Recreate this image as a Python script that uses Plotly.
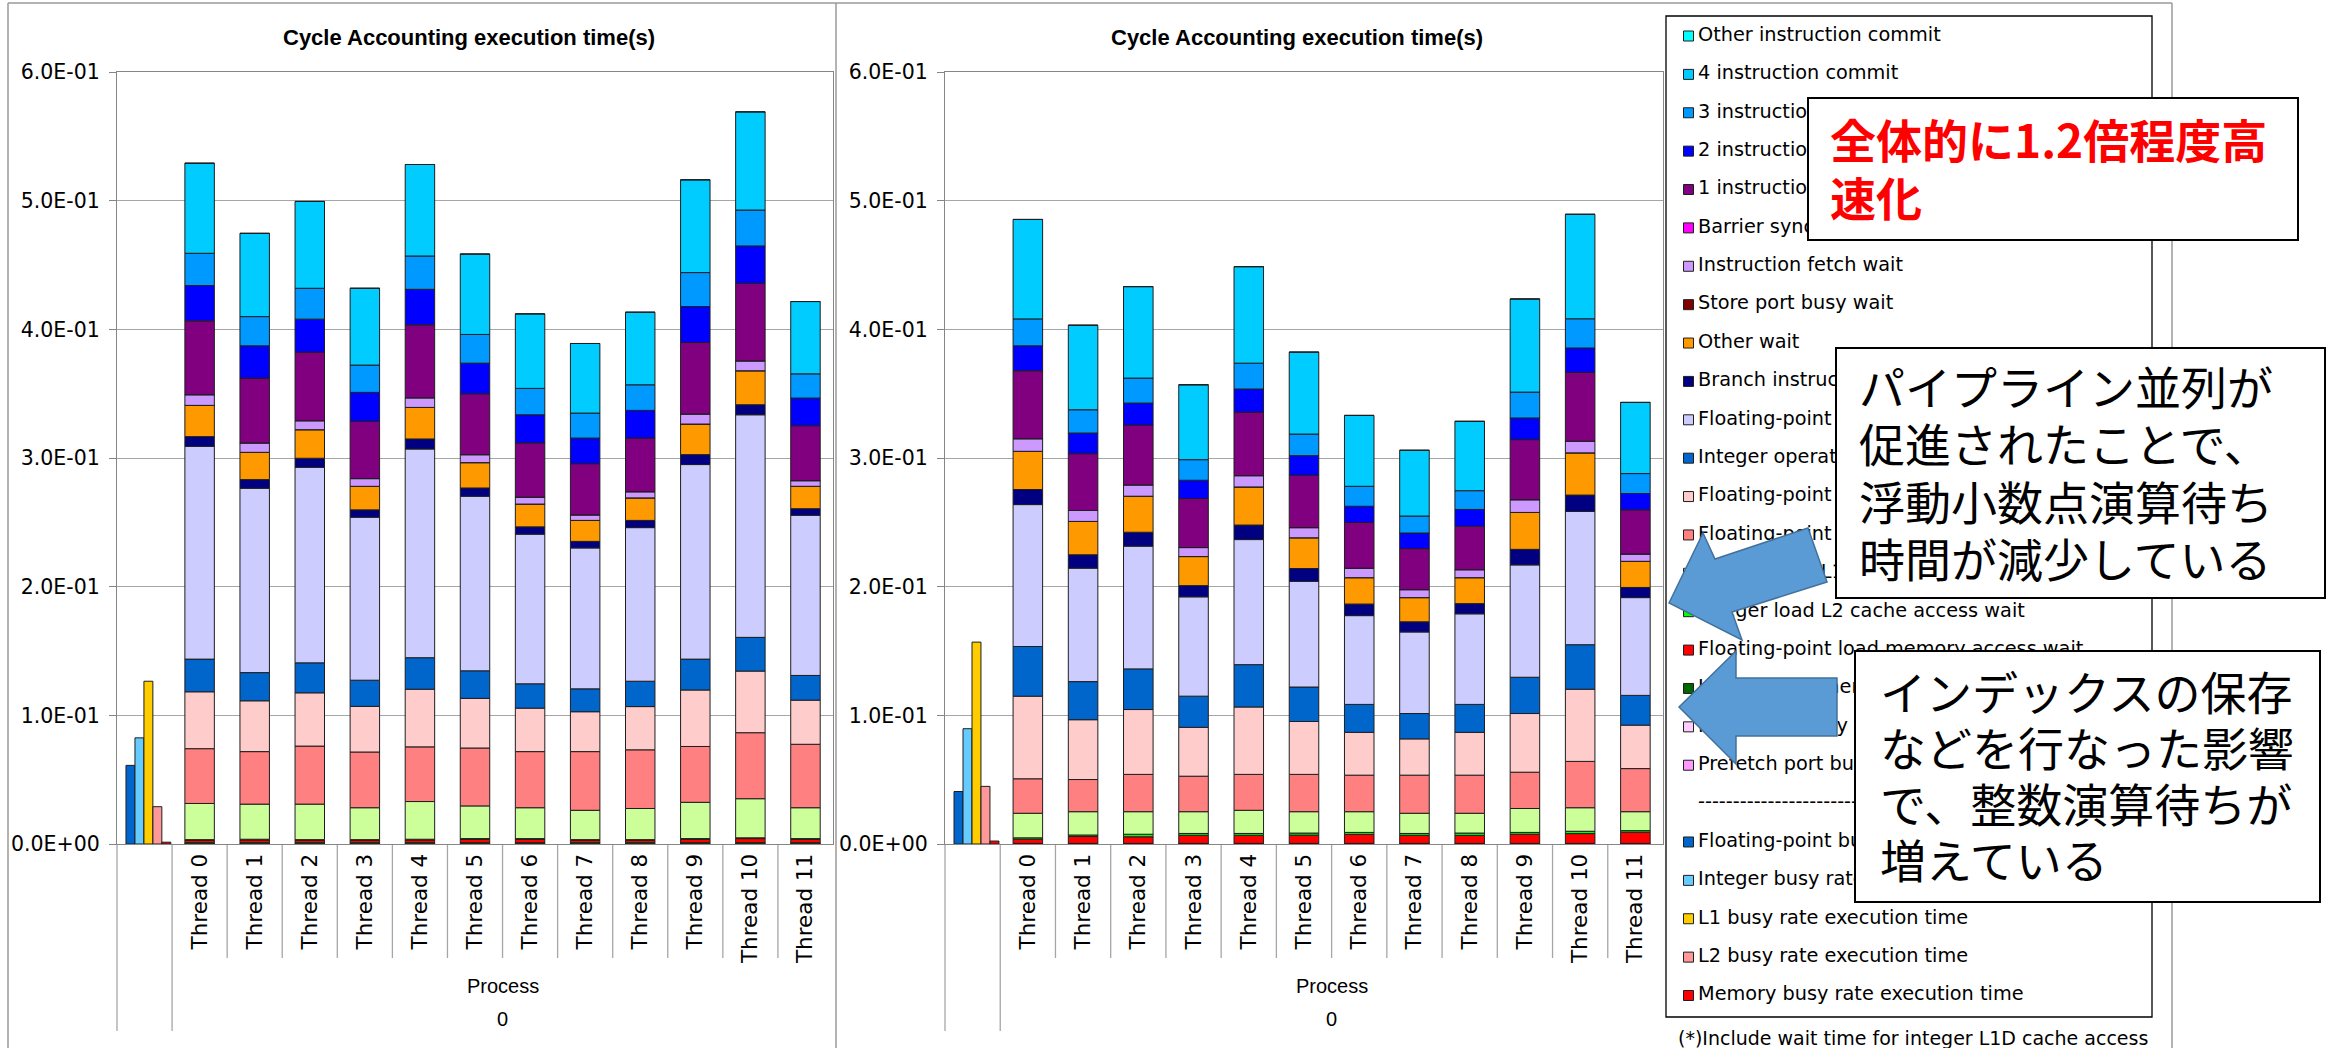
import numpy as np
import plotly.graph_objects as go

W, H = 2338, 1048

# ---------------------------------------------------------------- data
THREADS = ["Thread 0", "Thread 1", "Thread 2", "Thread 3", "Thread 4", "Thread 5",
           "Thread 6", "Thread 7", "Thread 8", "Thread 9", "Thread 10", "Thread 11"]
Y_TICKS = [0.0, 0.1, 0.2, 0.3, 0.4, 0.5, 0.6]
TITLE = "Cycle Accounting execution time(s)"

# stacked categories, listed from the top of each column to the bottom
STACK_NAMES = [
    "Other instruction commit", "4 instruction commit", "3 instruction commit",
    "2 instruction commit", "1 instruction commit", "Barrier synchronization wait",
    "Instruction fetch wait", "Store port busy wait", "Other wait",
    "Branch instruction wait", "Floating-point operation wait", "Integer operation wait",
    "Floating-point load L1D cache access wait", "Floating-point load L2 cache access wait",
    "Integer load L1D cache access wait", "Integer load L2 cache access wait",
    "Floating-point load memory access wait", "Integer load memory access wait",
    "Fetch port busy wait", "Prefetch port busy wait",
]
STACK_COLORS = [
    "#00FFFF", "#00CCFF", "#0099FF", "#0000FF", "#800080", "#FF00FF", "#CC99FF",
    "#800000", "#FF9900", "#000080", "#CCCCFF", "#0066CC", "#FFCCCC", "#FF8080",
    "#CCFF99", "#00FF00", "#FF0000", "#006600", "#FFCCFF", "#FF99FF",
]
SEPARATOR_LABEL = "-" * 40
BUSY_NAMES = [
    "Floating-point busy rate execution time", "Integer busy rate execution time",
    "L1 busy rate execution time", "L2 busy rate execution time",
    "Memory busy rate execution time",
]
BUSY_COLORS = ["#0066CC", "#66CCFF", "#FFCC00", "#FF9999", "#FF0000"]

# --- left chart (before tuning), one value per thread
B_OTHER_COMMIT = [0, 0, 0, 0, 0, 0, 0, 0, 0, 0, 0, 0]
B_COMMIT4 = [0.0700, 0.0647, 0.0675, 0.0597, 0.0711, 0.0625, 0.0579, 0.0541, 0.0564, 0.0721, 0.0763, 0.0562]
B_COMMIT3 = [0.0251, 0.0227, 0.0240, 0.0212, 0.0259, 0.0223, 0.0205, 0.0194, 0.0199, 0.0264, 0.0279, 0.0188]
B_COMMIT2 = [0.0274, 0.0251, 0.0256, 0.0225, 0.0276, 0.0238, 0.0219, 0.0199, 0.0215, 0.0279, 0.0290, 0.0215]
B_COMMIT1 = [0.0574, 0.0504, 0.0533, 0.0445, 0.0567, 0.0473, 0.0421, 0.0398, 0.0417, 0.0556, 0.0603, 0.0427]
B_BARRIER = [0, 0, 0, 0, 0, 0, 0, 0, 0, 0, 0, 0]
B_IFETCH = [0.0083, 0.0073, 0.0070, 0.0060, 0.0075, 0.0062, 0.0054, 0.0043, 0.0048, 0.0078, 0.0077, 0.0044]
B_STORE_PORT = [0, 0, 0, 0, 0, 0, 0, 0, 0, 0, 0, 0]
B_OTHER_WAIT = [0.0243, 0.0212, 0.0222, 0.0183, 0.0245, 0.0197, 0.0177, 0.0163, 0.0175, 0.0238, 0.0264, 0.0174]
B_BRANCH = [0.0075, 0.0067, 0.0070, 0.0057, 0.0078, 0.0064, 0.0057, 0.0051, 0.0056, 0.0077, 0.0078, 0.0051]
B_FP_OP = [0.1654, 0.1433, 0.1520, 0.1267, 0.1622, 0.1357, 0.1163, 0.1095, 0.1194, 0.1512, 0.1730, 0.1245]
B_INT_OP = [0.0254, 0.0219, 0.0233, 0.0203, 0.0245, 0.0214, 0.0189, 0.0178, 0.0197, 0.0240, 0.0262, 0.0192]
B_FP_L1D = [0.0442, 0.0395, 0.0414, 0.0355, 0.0448, 0.0386, 0.0338, 0.0310, 0.0336, 0.0439, 0.0479, 0.0343]
B_FP_L2 = [0.0426, 0.0408, 0.0451, 0.0433, 0.0425, 0.0450, 0.0436, 0.0456, 0.0456, 0.0434, 0.0513, 0.0493]
B_INT_L1D = [0.0281, 0.0273, 0.0276, 0.0248, 0.0293, 0.0254, 0.0240, 0.0228, 0.0242, 0.0282, 0.0304, 0.0240]
B_INT_L2 = [0.0006, 0.0006, 0.0006, 0.0006, 0.0006, 0.0006, 0.0006, 0.0006, 0.0006, 0.0006, 0.0006, 0.0006]
B_FP_MEM = [0.0018, 0.0021, 0.0018, 0.0018, 0.0021, 0.0026, 0.0026, 0.0018, 0.0018, 0.0026, 0.0032, 0.0026]
B_INT_MEM = [0.0010, 0.0010, 0.0010, 0.0010, 0.0010, 0.0010, 0.0010, 0.0010, 0.0010, 0.0010, 0.0010, 0.0010]
B_FETCH_PORT = [0, 0, 0, 0, 0, 0, 0, 0, 0, 0, 0, 0]
B_PREFETCH_PORT = [0, 0, 0, 0, 0, 0, 0, 0, 0, 0, 0, 0]
B_BUSY = [0.0611, 0.0825, 0.1265, 0.0290, 0.0014]

# --- right chart (after tuning)
A_OTHER_COMMIT = [0, 0, 0, 0, 0, 0, 0, 0, 0, 0, 0, 0]
A_COMMIT4 = [0.0773, 0.0657, 0.0711, 0.0582, 0.0750, 0.0637, 0.0551, 0.0511, 0.0539, 0.0724, 0.0812, 0.0553]
A_COMMIT3 = [0.0209, 0.0181, 0.0194, 0.0160, 0.0201, 0.0168, 0.0155, 0.0132, 0.0146, 0.0201, 0.0227, 0.0155]
A_COMMIT2 = [0.0194, 0.0160, 0.0171, 0.0142, 0.0179, 0.0152, 0.0126, 0.0121, 0.0130, 0.0168, 0.0189, 0.0127]
A_COMMIT1 = [0.0528, 0.0442, 0.0465, 0.0381, 0.0494, 0.0407, 0.0355, 0.0319, 0.0338, 0.0467, 0.0535, 0.0343]
A_BARRIER = [0, 0, 0, 0, 0, 0, 0, 0, 0, 0, 0, 0]
A_IFETCH = [0.0098, 0.0085, 0.0088, 0.0070, 0.0088, 0.0079, 0.0074, 0.0062, 0.0062, 0.0099, 0.0091, 0.0057]
A_STORE_PORT = [0, 0, 0, 0, 0, 0, 0, 0, 0, 0, 0, 0]
A_OTHER_WAIT = [0.0297, 0.0259, 0.0280, 0.0226, 0.0296, 0.0239, 0.0205, 0.0188, 0.0202, 0.0287, 0.0328, 0.0203]
A_BRANCH = [0.0117, 0.0104, 0.0108, 0.0087, 0.0113, 0.0099, 0.0090, 0.0079, 0.0079, 0.0121, 0.0127, 0.0079]
A_FP_OP = [0.1103, 0.0882, 0.0954, 0.0772, 0.0972, 0.0822, 0.0690, 0.0634, 0.0704, 0.0873, 0.1036, 0.0760]
A_INT_OP = [0.0386, 0.0296, 0.0316, 0.0242, 0.0329, 0.0268, 0.0217, 0.0197, 0.0217, 0.0282, 0.0346, 0.0231]
A_FP_L1D = [0.0642, 0.0465, 0.0504, 0.0380, 0.0524, 0.0411, 0.0333, 0.0282, 0.0333, 0.0456, 0.0561, 0.0338]
A_FP_L2 = [0.0268, 0.0250, 0.0290, 0.0276, 0.0279, 0.0290, 0.0284, 0.0296, 0.0296, 0.0282, 0.0360, 0.0335]
A_INT_L1D = [0.0191, 0.0181, 0.0175, 0.0169, 0.0180, 0.0166, 0.0161, 0.0157, 0.0154, 0.0186, 0.0183, 0.0147]
A_INT_L2 = [0.0010, 0.0012, 0.0020, 0.0014, 0.0014, 0.0016, 0.0015, 0.0014, 0.0018, 0.0014, 0.0018, 0.0012]
A_FP_MEM = [0.0033, 0.0053, 0.0051, 0.0063, 0.0063, 0.0064, 0.0070, 0.0063, 0.0062, 0.0071, 0.0076, 0.0087]
A_INT_MEM = [0.0005, 0.0005, 0.0005, 0.0005, 0.0005, 0.0005, 0.0005, 0.0005, 0.0005, 0.0005, 0.0005, 0.0005]
A_FETCH_PORT = [0, 0, 0, 0, 0, 0, 0, 0, 0, 0, 0, 0]
A_PREFETCH_PORT = [0, 0, 0, 0, 0, 0, 0, 0, 0, 0, 0, 0]
A_BUSY = [0.0408, 0.0896, 0.1569, 0.0448, 0.0023]

BEFORE_STACK = [B_OTHER_COMMIT, B_COMMIT4, B_COMMIT3, B_COMMIT2, B_COMMIT1, B_BARRIER,
                B_IFETCH, B_STORE_PORT, B_OTHER_WAIT, B_BRANCH, B_FP_OP, B_INT_OP,
                B_FP_L1D, B_FP_L2, B_INT_L1D, B_INT_L2, B_FP_MEM, B_INT_MEM,
                B_FETCH_PORT, B_PREFETCH_PORT]
AFTER_STACK = [A_OTHER_COMMIT, A_COMMIT4, A_COMMIT3, A_COMMIT2, A_COMMIT1, A_BARRIER,
               A_IFETCH, A_STORE_PORT, A_OTHER_WAIT, A_BRANCH, A_FP_OP, A_INT_OP,
               A_FP_L1D, A_FP_L2, A_INT_L1D, A_INT_L2, A_FP_MEM, A_INT_MEM,
               A_FETCH_PORT, A_PREFETCH_PORT]

NOTE_SPEEDUP = ["全体的に1.2倍程度高", "速化"]
NOTE_FP = ["パイプライン並列が", "促進されたことで、", "浮動小数点演算待ち", "時間が減少している"]
NOTE_INT = ["インデックスの保存", "などを行なった影響", "で、整数演算待ちが", "増えている"]
FOOTNOTE = "(*)Include wait time for integer L1D cache access"

# ---------------------------------------------------------------- layout helpers
def px(x):
    return x / W


def py(y):
    return 1 - y / H


PLOT_TOP, PLOT_BOTTOM = 72, 844
CHARTS = [  # (plot-area left, right, x axis, y axis, stack, busy, title centre)
    (117, 833, "x", "y", BEFORE_STACK, B_BUSY, 469),
    (945, 1663, "x2", "y2", AFTER_STACK, A_BUSY, 1297),
]
N_SLOTS = len(THREADS) + 1
POS = np.arange(1, len(THREADS) + 1)   # slot 0 holds the process-level busy rates

DEJAVU = "DejaVu Sans, Verdana, sans-serif"
LIBERATION = "Liberation Sans, Arial, sans-serif"
Y_TICK_FONT = dict(family=DEJAVU, size=20.5, color="black")
X_TICK_FONT = dict(family=DEJAVU, size=21.5, color="black")
LEGEND_FONT = dict(family=DEJAVU, size=19.3, color="black")
GRID = "#A6A6A6"
AXIS = "#868686"

fig = go.Figure()
shapes = []
annotations = []

for left, right, xa, ya, stack, busy, title_x in CHARTS:
    # stacked columns, built from the bottom category upwards
    base = np.zeros(len(THREADS))
    for name, color, vals in reversed(list(zip(STACK_NAMES, STACK_COLORS, stack))):
        v = np.asarray(vals, dtype=float)
        fig.add_trace(go.Bar(
            x=POS, y=v, base=base.copy(), width=0.535, name=name,
            marker=dict(color=color, line=dict(color="#1E1E1E", width=1)),
            xaxis=xa, yaxis=ya, showlegend=False, hoverinfo="skip"))
        base += v
    # process-level busy rates, side by side in the first slot
    for i, (name, color, val) in enumerate(zip(BUSY_NAMES, BUSY_COLORS, busy)):
        fig.add_trace(go.Bar(
            x=[0], y=[val], width=0.162, offset=-0.337 + i * 0.163, name=name,
            marker=dict(color=color, line=dict(color="#1E1E1E", width=1)),
            xaxis=xa, yaxis=ya, showlegend=False, hoverinfo="skip"))

    # slot separators below the category axis
    cw = (right - left) / N_SLOTS
    for k in range(N_SLOTS):
        xk = left + k * cw
        shapes.append(dict(type="line", xref="paper", yref="paper",
                           x0=px(xk), x1=px(xk), y0=py(PLOT_BOTTOM),
                           y1=py(1031 if k < 2 else 958),
                           line=dict(color=GRID, width=1.3), layer="below"))

    annotations += [
        dict(text=TITLE, x=px(title_x), y=py(38), xref="paper", yref="paper",
             showarrow=False, xanchor="center", yanchor="middle",
             font=dict(family=LIBERATION, size=22, color="black", weight="bold")),
        dict(text="Process", x=px(left + 7 * cw), y=py(986), xref="paper", yref="paper",
             showarrow=False, xanchor="center", yanchor="middle",
             font=dict(family=LIBERATION, size=20, color="black")),
        dict(text="0", x=px(left + 7 * cw), y=py(1019), xref="paper", yref="paper",
             showarrow=False, xanchor="center", yanchor="middle",
             font=dict(family=LIBERATION, size=20, color="black")),
    ]

xaxis_common = dict(range=[-0.5, len(THREADS) + 0.5], tickvals=POS, ticktext=THREADS,
                    tickangle=-90, ticks="", showgrid=False, zeroline=False,
                    showline=True, linecolor=AXIS, linewidth=1.3, mirror=True,
                    tickfont=X_TICK_FONT, fixedrange=True, automargin=False)
yaxis_common = dict(domain=[py(PLOT_BOTTOM), py(PLOT_TOP)], range=[0, 0.6],
                    tickvals=Y_TICKS, ticktext=[f"{v:.1E}" for v in Y_TICKS],
                    showgrid=True, gridcolor=GRID, gridwidth=1.3, zeroline=False,
                    showline=True, linecolor=AXIS, linewidth=1.3, mirror=True,
                    ticks="outside", ticklen=7, tickwidth=1.3, tickcolor=AXIS,
                    ticklabelstandoff=5, tickfont=Y_TICK_FONT, fixedrange=True,
                    automargin=False)

fig.update_layout(
    template="none",
    xaxis=dict(domain=[px(117), px(833)], anchor="y", **xaxis_common),
    yaxis=dict(anchor="x", **yaxis_common),
    xaxis2=dict(domain=[px(945), px(1663)], anchor="y2", **xaxis_common),
    yaxis2=dict(anchor="x2", **yaxis_common),
    xaxis3=dict(domain=[0, 1], range=[0, W], visible=False, fixedrange=True,
                anchor="y3", automargin=False),
    yaxis3=dict(domain=[0, 1], range=[H, 0], visible=False, fixedrange=True,
                anchor="x3", automargin=False),
)

# ---------------------------------------------------------------- legend panel
LEG_NAMES = STACK_NAMES + [SEPARATOR_LABEL] + BUSY_NAMES
LEG_COLORS = STACK_COLORS + [None] + BUSY_COLORS
LEG_TOP, LEG_STEP = 36, 38.38
rows = np.arange(len(LEG_NAMES))
row_y = LEG_TOP + LEG_STEP * rows
swatch_rows = [i for i, c in enumerate(LEG_COLORS) if c is not None]

fig.add_trace(go.Scatter(
    x=[1688.5] * len(swatch_rows), y=row_y[swatch_rows], mode="markers",
    marker=dict(symbol="square", size=10, color=[LEG_COLORS[i] for i in swatch_rows],
                line=dict(color="#1E1E1E", width=1)),
    xaxis="x3", yaxis="y3", showlegend=False, hoverinfo="skip", cliponaxis=False))
fig.add_trace(go.Scatter(
    x=[1698] * len(LEG_NAMES), y=row_y, mode="text", text=LEG_NAMES,
    textposition="middle right", textfont=LEGEND_FONT,
    xaxis="x3", yaxis="y3", showlegend=False, hoverinfo="skip", cliponaxis=False))

annotations.append(dict(text=FOOTNOTE, x=px(1676), y=py(1038), xref="paper", yref="paper",
                        showarrow=False, xanchor="left", yanchor="middle",
                        font=dict(family=DEJAVU, size=19, color="black")))

# ---------------------------------------------------------------- frames
FRAME = "#9A9A9A"
shapes += [
    dict(type="line", xref="paper", yref="paper", x0=px(8), x1=px(2172), y0=py(3), y1=py(3),
         line=dict(color=FRAME, width=1.5), layer="below"),
    dict(type="line", xref="paper", yref="paper", x0=px(8), x1=px(8), y0=py(3), y1=py(H),
         line=dict(color=FRAME, width=1.5), layer="below"),
    dict(type="line", xref="paper", yref="paper", x0=px(836), x1=px(836), y0=py(3), y1=py(H),
         line=dict(color=FRAME, width=1.5), layer="below"),
    dict(type="line", xref="paper", yref="paper", x0=px(2172), x1=px(2172), y0=py(3), y1=py(H),
         line=dict(color=FRAME, width=1.5), layer="below"),
    dict(type="rect", xref="paper", yref="paper", x0=px(1666), x1=px(2152),
         y0=py(1017), y1=py(16), line=dict(color="black", width=1.3),
         fillcolor="white", layer="below"),
]


# ---------------------------------------------------------------- callouts
def poly(points):
    return "M " + " L ".join(f"{px(x):.5f},{py(y):.5f}" for x, y in points) + " Z"


ARROW_FILL, ARROW_LINE = "#5B9BD5", "#41719C"
shapes += [
    dict(type="path", xref="paper", yref="paper", layer="above",
         path=poly([(1669, 603), (1703, 533), (1715, 559), (1808, 528),
                    (1827, 582), (1732, 612), (1742, 640)]),
         fillcolor=ARROW_FILL, line=dict(color=ARROW_LINE, width=1.5)),
    dict(type="path", xref="paper", yref="paper", layer="above",
         path=poly([(1679, 707), (1736, 651), (1736, 678), (1837, 678),
                    (1837, 736), (1736, 736), (1736, 764)]),
         fillcolor=ARROW_FILL, line=dict(color=ARROW_LINE, width=1.5)),
]

BOXES = [  # (left, top, right, bottom, text left, first line centre, line step, lines, colour, weight)
    (1808, 98, 2298, 240, 1828, 138, 58, NOTE_SPEEDUP, "#FF0000", "bold"),
    (1836, 348, 2325, 598, 1857, 385, 57.3, NOTE_FP, "black", "normal"),
    (1855, 651, 2320, 902, 1878, 690, 56, NOTE_INT, "black", "normal"),
]
for x0, y0, x1, y1, tx, ty, step, lines, color, weight in BOXES:
    shapes.append(dict(type="rect", xref="paper", yref="paper", layer="above",
                       x0=px(x0), x1=px(x1), y0=py(y1), y1=py(y0),
                       fillcolor="white", line=dict(color="black", width=2)))
    for j, line in enumerate(lines):
        annotations.append(dict(
            text=line, x=px(tx), y=py(ty + j * step), xref="paper", yref="paper",
            showarrow=False, xanchor="left", yanchor="middle",
            font=dict(family="Noto Sans CJK JP, sans-serif", size=46, color=color,
                      weight=weight)))

fig.update_layout(
    width=W, height=H, autosize=False,
    margin=dict(l=0, r=0, t=0, b=0, pad=0, autoexpand=False),
    paper_bgcolor="white", plot_bgcolor="rgba(0,0,0,0)",
    barmode="overlay", showlegend=False,
    font=dict(family=DEJAVU, color="black"),
    shapes=shapes, annotations=annotations,
)

fig.write_html("out.html")
